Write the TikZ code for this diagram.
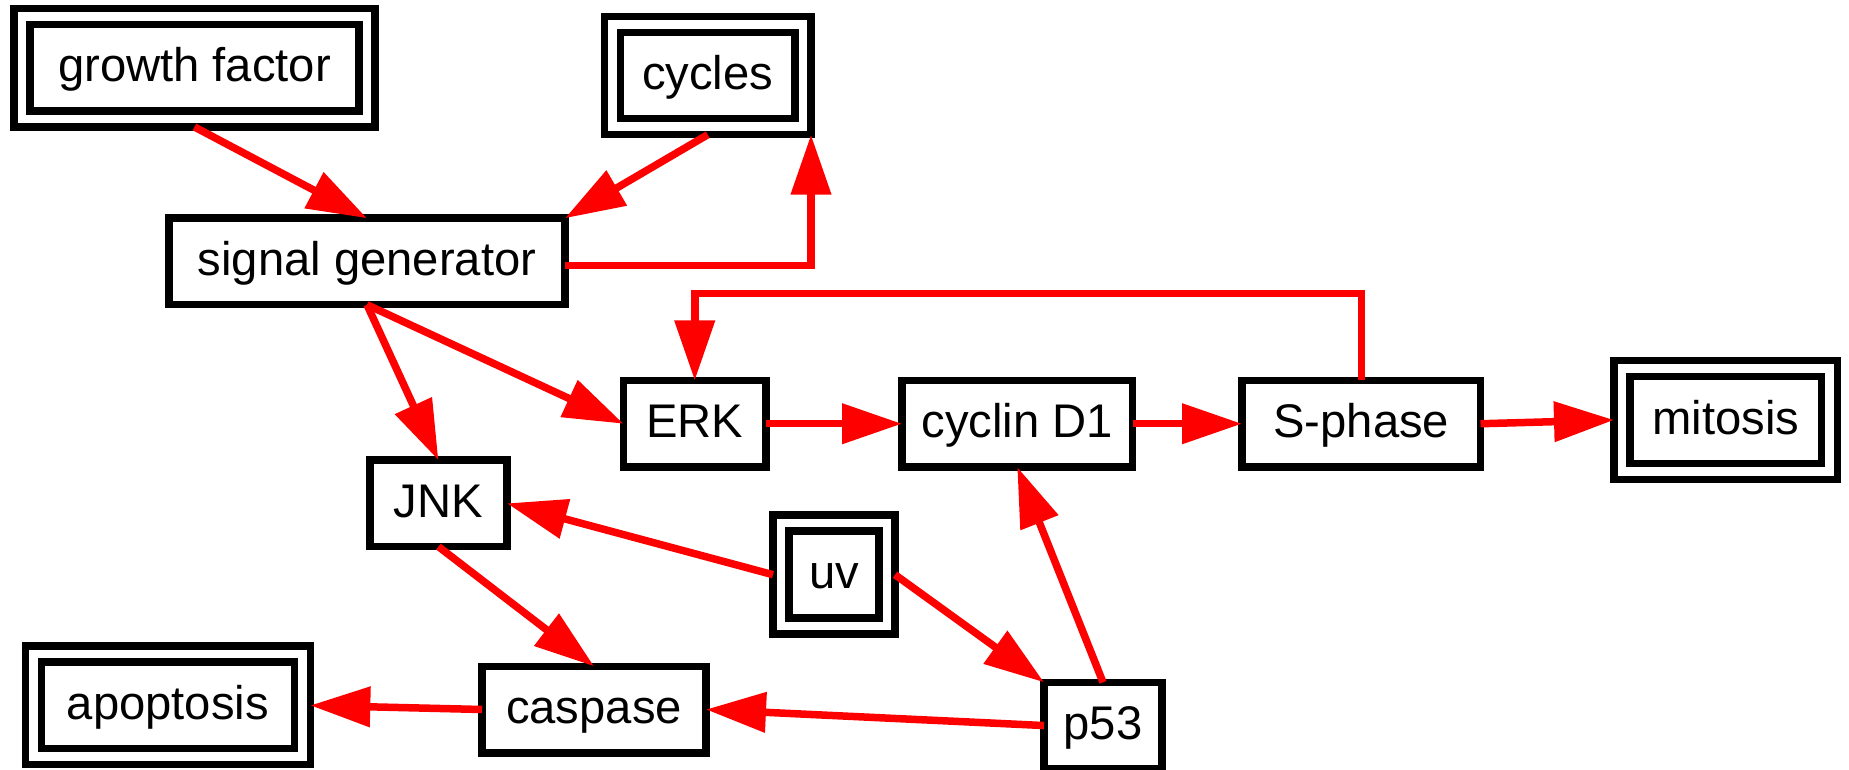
\documentclass[tikz,border=0pt]{standalone}
\usepackage{fontspec}
\setmainfont{Liberation Sans}
\usetikzlibrary{arrows.meta}
\begin{document}
\begin{tikzpicture}[x=0.5pt,y=-0.5pt,
 every node/.style={font=\fontsize{23.6}{28}\selectfont, text height=17.7pt, text depth=3.5pt, inner sep=0pt},
 sbox/.style={draw=black, line width=3.75pt, minimum height=43.25pt, outer sep=0pt},
 dbox/.style={draw=black, line width=3.75pt, double=white, double distance=4.25pt, outer sep=4pt},
 arr/.style={draw=red, line width=3.75pt, line join=miter, -{Triangle[length=30pt,width=19.5pt]}}]
\useasboundingbox (0,0) rectangle (1849,770);
\node[dbox, minimum width=172.5pt, minimum height=51.25pt] (gf) at (194.5,67.75) {growth factor};
\node[dbox, minimum width=95.25pt, minimum height=51.2pt] (cy) at (707.75,75.5) {cycles};
\node[sbox, minimum width=198pt] (sg) at (367,261.5) {signal generator};
\node[sbox, minimum width=71.25pt] (erk) at (694.75,423.75) {ERK};
\node[sbox, minimum width=115.25pt] (cd) at (1017.25,423.75) {cyclin D1};
\node[sbox, minimum width=119.25pt] (sp) at (1361.25,423.75) {S-phase};
\node[dbox, minimum width=103.75pt, minimum height=51.4pt] (mi) at (1725.75,420) {mitosis};
\node[sbox, minimum width=68.6pt] (jnk) at (438.4,503.35) {JNK};
\node[dbox, minimum width=53pt, minimum height=51.5pt] (uv) at (834,574.7) {uv};
\node[dbox, minimum width=134.5pt, minimum height=51.2pt] (ap) at (167.8,705.4) {apoptosis};
\node[sbox, minimum width=112pt] (cs) at (594,709.5) {caspase};
\node[sbox, minimum width=59pt] (p53) at (1103,725.55) {p53};
\draw[arr] (gf.south) -- (sg.north);
\draw[arr] (cy.south) -- (sg.north east);
\draw[arr] ([yshift=-2pt]sg.east) -| (cy.south east);
\draw[arr] (sp.north) -- ++(0,-87) -| (erk.north);
\draw[arr] (sg.south) -- (jnk.north);
\draw[arr] (sg.south) -- (erk.west);
\draw[arr] (erk.east) -- (cd.west);
\draw[arr] (cd.east) -- (sp.west);
\draw[arr] (sp.east) -- (mi.west);
\draw[arr] (jnk.south) -- (cs.north);
\draw[arr] (uv.west) -- (jnk.east);
\draw[arr] (uv.east) -- (p53.north west);
\draw[arr] (p53.north) -- (cd.south);
\draw[arr] (p53.west) -- (cs.east);
\draw[arr] (cs.west) -- (ap.east);
\end{tikzpicture}
\end{document}
